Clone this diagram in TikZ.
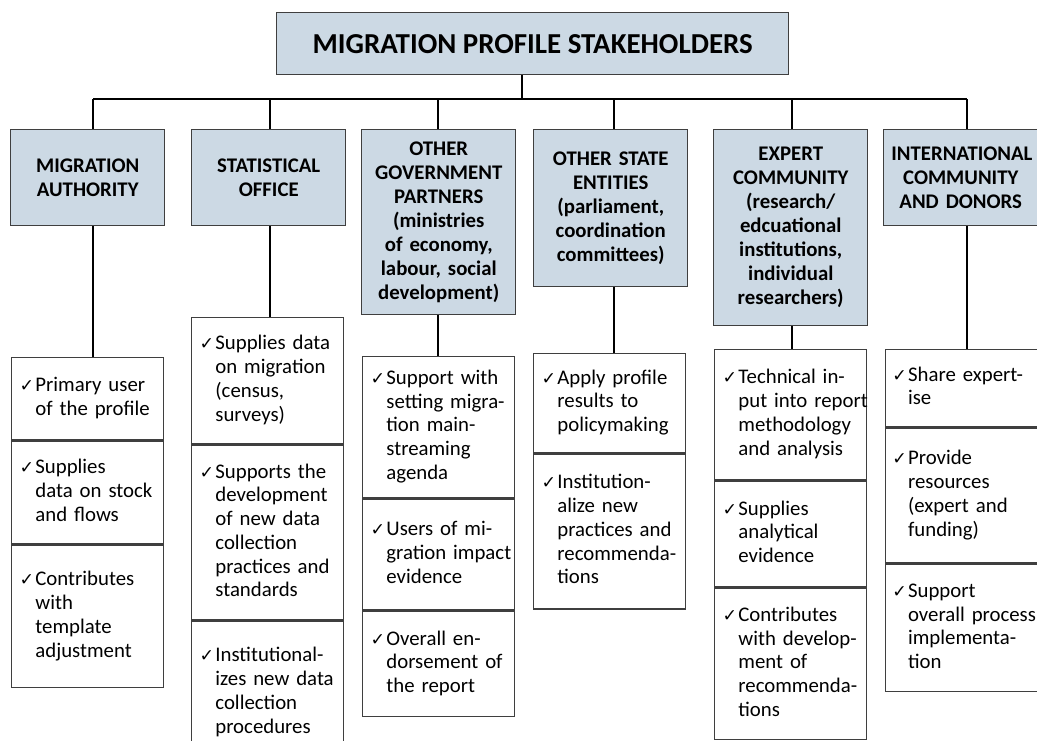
\documentclass[tikz,border=0pt]{standalone}
\usepackage{fontspec}
\setmainfont{Carlito}
\newfontfamily\symfont{DejaVu Sans}
\usepackage{xcolor}
\usepackage{tikz}
\usetikzlibrary { positioning,
}
\definecolor{headfill}{HTML}{CCD9E4}
\definecolor{edge}{HTML}{3F3F3F}
% one ticked item: the tick, then the lines hanging beside it
\newcommand{\chk}[1]{\makebox[11.75pt][l]{\symfont\fontsize{13}{13}\selectfont ✓}\begin{tabular}[t]{@{}l@{}}#1\end{tabular}}

\begin{document}
\begin{tikzpicture}[x=0.75pt, y=-0.75pt,
	title/.style={draw=edge, line width=1.1pt, fill=headfill, anchor=north west, minimum width=384pt, minimum height=46.5pt, font=\bfseries\fontsize{21.7}{26}\selectfont},
	head/.style={draw=edge, line width=1.1pt, fill=headfill, anchor=north west, text width=104pt, inner xsep=5.75pt, align=center, font=\bfseries\fontsize{15.6}{18}\selectfont},
	cell/.style={draw=edge, line width=1.1pt, fill=white, anchor=north west, text width=102pt, inner xsep=6pt, inner ysep=0pt, align=left, font=\fontsize{15.6}{17.8}\selectfont},
	link/.style={black, line width=1pt}]
		\useasboundingbox (0,0) rectangle (1037,740);
		\clip (0,0) rectangle (1037,740);

		\node[title] at (276,12) (title) {MIGRATION PROFILE STAKEHOLDERS};

		% stakeholders
		\node[head, minimum height=72pt] at (10,129) (h1) {MIGRATION\\AUTHORITY};
		\node[head, minimum height=72pt] at (191,129) (h2) {STATISTICAL\\OFFICE};
		\node[head, minimum height=138.75pt] at (361,129) (h3) {OTHER\\GOVERNMENT\\PARTNERS\\(ministries\\of economy,\\labour, social\\development)};
		\node[head, minimum height=117.75pt] at (533,129) (h4) {OTHER STATE\\ENTITIES\\(parliament,\\coordination\\committees)};
		\node[head, minimum height=147pt] at (713,129) (h5) {EXPERT\\COMMUNITY\\(research/\\edcuational\\institutions,\\individual\\researchers)};
		\node[head, minimum height=72pt] at (883,129) (h6) {INTERNATIONAL\\COMMUNITY\\AND DONORS};

		% roles, one column per stakeholder
		\node[cell, minimum height=61.5pt] at (11,357) (c11) {\chk{Primary user\\of the profile}};
		\node[cell, minimum height=77.25pt, below=0pt of c11] (c12) {\chk{Supplies\\data on stock\\and flows}};
		\node[cell, minimum height=106.5pt, below=0pt of c12] (c13) {\chk{Contributes\\with\\template\\adjustment}};

		\node[cell, minimum height=94.5pt] at (191,317) (c21) {\chk{Supplies data\\on migration\\(census,\\surveys)}};
		\node[cell, minimum height=131.25pt, below=0pt of c21] (c22) {\chk{Supports the\\development\\of new data\\collection\\practices and\\standards}};
		\node[cell, minimum height=106.5pt, below=0pt of c22] (c23) {\chk{Institutional-\\izes new data\\collection\\procedures}};

		\node[cell, minimum height=105.75pt] at (362,356) (c31) {\chk{Support with\\setting migra-\\tion main-\\streaming\\agenda}};
		\node[cell, minimum height=83.25pt, below=0pt of c31] (c32) {\chk{Users of mi-\\gration impact\\evidence}};
		\node[cell, minimum height=78.75pt, below=0pt of c32] (c33) {\chk{Overall en-\\dorsement of\\the report}};

		\node[cell, minimum height=74.25pt] at (533,353) (c41) {\chk{Apply profile\\results to\\policymaking}};
		\node[cell, minimum height=116.25pt, below=0pt of c41] (c42) {\chk{Institution-\\alize new\\practices and\\recommenda-\\tions}};

		\node[cell, minimum height=97.5pt] at (714,349) (c51) {\chk{Technical in-\\put into report\\methodology\\and analysis}};
		\node[cell, minimum height=79.5pt, below=0pt of c51] (c52) {\chk{Supplies\\analytical\\evidence}};
		\node[cell, minimum height=113.25pt, below=0pt of c52] (c53) {\chk{Contributes\\with develop-\\ment of\\recommenda-\\tions}};

		\node[cell, text width=110pt, inner xsep=5pt, minimum height=57.75pt] at (885,349) (c61) {\chk{Share expert-\\ise}};
		\node[cell, text width=110pt, inner xsep=5pt, minimum height=101.25pt, below=0pt of c61] (c62) {\chk{Provide\\resources\\(expert and\\funding)}};
		\node[cell, text width=110pt, inner xsep=5pt, minimum height=95.25pt, below=0pt of c62] (c63) {\chk{Support\\overall process\\implementa-\\tion}};

		% tree lines
		\coordinate (bus) at (522,99);
		\coordinate (d1) at (93,99);
		\coordinate (d2) at (270,99);
		\coordinate (d3) at (438,99);
		\coordinate (d4) at (614,99);
		\coordinate (d5) at (792,99);
		\coordinate (d6) at (967,99);
		\draw[link] (title.south -| bus) -- (bus);
		\draw[link] (d1) -- (d6);
		\foreach \i in {1,...,6} {
			\draw[link] (d\i) -- (d\i |- h\i.north);
			\draw[link] (d\i |- h\i.south) -- (d\i |- c\i1.north);
		}
	\end{tikzpicture}
\end{document}
